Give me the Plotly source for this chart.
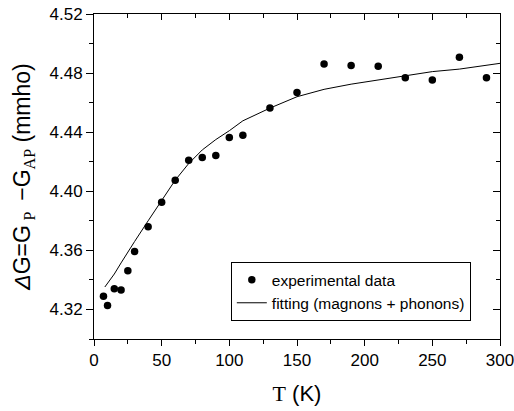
import plotly.graph_objects as go

T_exp = [7, 10, 15, 20, 25, 30, 40, 50, 60, 70, 80, 90, 100, 110, 130, 150, 170, 190, 210, 230, 250, 270, 290]
G_exp = [4.329, 4.3227, 4.334, 4.3332, 4.3462, 4.3592, 4.376, 4.3926, 4.4075, 4.421, 4.4228, 4.4242,
         4.4364, 4.438, 4.4563, 4.4669, 4.4861, 4.4852, 4.4847, 4.4768, 4.4753, 4.4908, 4.4768]

T_fit = [8, 15, 20, 25, 30, 40, 50, 60, 70, 80, 90, 100, 110, 130, 150, 170, 190, 210, 230, 250, 270, 300]
G_fit = [4.3352, 4.344, 4.3515, 4.359, 4.366, 4.380, 4.394, 4.4075, 4.4188, 4.428, 4.435, 4.441,
         4.4477, 4.4563, 4.464, 4.469, 4.4725, 4.4755, 4.478, 4.481, 4.4827, 4.4866]

x_range = [0, 300]
y_range = [4.30, 4.52]

SANS = "Liberation Sans, Arial, sans-serif"
NARROW = "Liberation Sans Narrow, Arial Narrow, Liberation Sans, sans-serif"
SERIF = "Liberation Serif"

fig = go.Figure()
fig.add_trace(go.Scatter(
    x=T_exp, y=G_exp, mode="markers", name="experimental data",
    marker=dict(color="black", size=7.5, symbol="circle"),
))
fig.add_trace(go.Scatter(
    x=T_fit, y=G_fit, mode="lines", name="fitting (magnons + phonons)",
    line=dict(color="black", width=1),
))
# dummy trace for the mirrored (top/right) axes
fig.add_trace(go.Scatter(x=[], y=[], xaxis="x2", yaxis="y2", showlegend=False, hoverinfo="skip"))

ytitle = ("<i>Δ</i>G=G<sub> <span style='font-family:%s'>P</span> </sub> −G"
          "<sub><span style='font-family:%s'>AP</span></sub> (mmho)") % (SERIF, SERIF)
xtitle = ("<span style='font-family:%s'>T</span>"
          "<span style='font-family:Liberation Sans'> (K)</span>") % SERIF

fig.update_layout(
    width=514, height=411,
    margin=dict(l=94, r=14, t=14, b=72),
    paper_bgcolor="white", plot_bgcolor="white",
    font=dict(family=SANS, color="black", size=15),
    showlegend=True,
    legend=dict(
        x=0.337, y=0.146, xanchor="left", yanchor="middle",
        bordercolor="black", borderwidth=1, bgcolor="white",
        font=dict(size=15.5, family=SANS, color="black"),
        tracegroupgap=0,
    ),
    xaxis=dict(
        range=x_range, showgrid=False, zeroline=False, automargin=False,
        showline=True, linecolor="black", linewidth=1,
        ticks="outside", ticklen=6, tickcolor="black", tickwidth=1,
        tick0=0, dtick=50, ticklabeloverflow="allow",
        minor=dict(ticks="outside", ticklen=4, dtick=25, tickcolor="black", showgrid=False),
        tickfont=dict(size=17),
        title=dict(text=xtitle, font=dict(size=22), standoff=16),
    ),
    yaxis=dict(
        range=y_range, showgrid=False, zeroline=False, automargin=False,
        showline=True, linecolor="black", linewidth=1,
        ticks="outside", ticklen=7, tickcolor="black", tickwidth=1,
        tick0=4.32, dtick=0.04, tickformat=".2f", ticklabeloverflow="allow",
        minor=dict(ticks="outside", ticklen=4, dtick=0.02, tickcolor="black", showgrid=False),
        tickfont=dict(size=17),
        title=dict(text=ytitle, font=dict(size=23, family=NARROW), standoff=12),
    ),
    xaxis2=dict(
        range=x_range, overlaying="x", side="top", anchor="y2", automargin=False,
        showgrid=False, zeroline=False, showticklabels=False,
        showline=True, linecolor="black", linewidth=1,
        ticks="inside", ticklen=6, tickcolor="black", tick0=0, dtick=50,
        minor=dict(ticks="inside", ticklen=4, dtick=25, tickcolor="black", showgrid=False),
    ),
    yaxis2=dict(
        range=y_range, overlaying="y", side="right", anchor="x2", automargin=False,
        showgrid=False, zeroline=False, showticklabels=False,
        showline=True, linecolor="black", linewidth=1,
        ticks="inside", ticklen=7, tickcolor="black", tick0=4.32, dtick=0.04,
        minor=dict(ticks="inside", ticklen=4, dtick=0.02, tickcolor="black", showgrid=False),
    ),
)

fig.write_html("out.html", config={"displayModeBar": False},
               post_script="document.body.style.margin='0';")
